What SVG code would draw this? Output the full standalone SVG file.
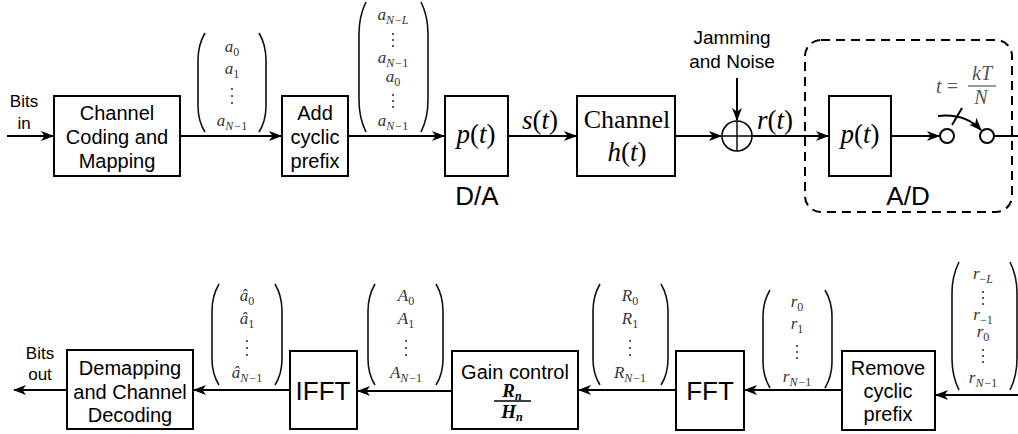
<svg xmlns="http://www.w3.org/2000/svg" width="1018" height="434" viewBox="0 0 1018 434">
<defs>
<marker id="ah" markerUnits="userSpaceOnUse" markerWidth="14" markerHeight="12" refX="12" refY="5" orient="auto">
<path d="M0,0 L13,5 L0,10 L3.5,5 Z" fill="#000"/>
</marker>
<style>
.box{fill:#fff;stroke:#000;stroke-width:2}
.w{fill:none;stroke:#000;stroke-width:2}
.lbl{font-family:"Liberation Sans",Arial,sans-serif;font-size:20px;text-anchor:middle;fill:#000}
.sm{font-family:"Liberation Sans",Arial,sans-serif;font-size:17px;text-anchor:middle;fill:#000}
.jm{font-family:"Liberation Sans",Arial,sans-serif;font-size:19px;text-anchor:middle;fill:#000}
.big{font-family:"Liberation Sans",Arial,sans-serif;font-size:26px;text-anchor:middle;fill:#000}
.m{font-family:"Liberation Serif","Times New Roman",serif;font-style:italic;font-size:27px;text-anchor:middle;fill:#000}
.rm{font-family:"Liberation Serif","Times New Roman",serif;font-size:26px;text-anchor:middle;fill:#000}
.v{font-family:"Liberation Serif","Times New Roman",serif;font-style:italic;font-size:17px;text-anchor:middle;fill:#333}
.frac{font-family:"Liberation Serif","Times New Roman",serif;font-style:italic;font-size:20px;text-anchor:middle;fill:#555}
.gf{font-family:"Liberation Serif","Times New Roman",serif;font-style:italic;font-weight:bold;font-size:19px;text-anchor:middle;fill:#000}
.s{font-size:12px}
.u{font-style:normal}
.par{fill:none;stroke:#111;stroke-width:1.6}
.dot{fill:#333}
</style>
</defs>

<g id="connectors">
<path class="w" d="M7,136 H53" marker-end="url(#ah)"/>
<path class="w" d="M180,136 H281" marker-end="url(#ah)"/>
<path class="w" d="M348,136 H444" marker-end="url(#ah)"/>
<path class="w" d="M508,136 H576" marker-end="url(#ah)"/>
<path class="w" d="M675,136 H721" marker-end="url(#ah)"/>
<path class="w" d="M737,78 V120" marker-end="url(#ah)"/>
<path class="w" d="M752,136 H828" marker-end="url(#ah)"/>
<path class="w" d="M891,136 H939" marker-end="url(#ah)"/>
<path class="w" d="M994,136 H1018"/>
<path class="w" d="M938,116 Q965,113 981,130" marker-end="url(#ah)"/>
<path class="w" d="M962,108 L952,125"/>
<path class="w" d="M1018,395 H936" marker-end="url(#ah)"/>
<path class="w" d="M842,390 H745" marker-end="url(#ah)"/>
<path class="w" d="M676,390 H579" marker-end="url(#ah)"/>
<path class="w" d="M452,391 H358" marker-end="url(#ah)"/>
<path class="w" d="M290,390 H194" marker-end="url(#ah)"/>
<path class="w" d="M67,390 H14" marker-end="url(#ah)"/>
</g>

<g id="bits-in">
<text class="sm" x="24" y="107">Bits</text>
<text class="sm" x="24" y="129">in</text>
</g>

<g id="coding">
<rect class="box" x="54" y="96" width="126" height="80"/>
<text class="lbl" x="117" y="120">Channel</text>
<text class="lbl" x="117" y="144">Coding and</text>
<text class="lbl" x="117" y="168">Mapping</text>
</g>

<g id="vec-a">
<path class="par" d="M205,33 Q198,45 198,60 L198,106 Q198,121 205,132"/>
<path class="par" d="M259,33 Q266,45 266,60 L266,106 Q266,121 259,132"/>
<text class="v" x="232" y="52">a<tspan class="s u" dy="4">0</tspan></text>
<text class="v" x="232" y="74">a<tspan class="s u" dy="4">1</tspan></text>
<circle class="dot" cx="232" cy="89" r="1.1"/><circle class="dot" cx="232" cy="96" r="1.1"/><circle class="dot" cx="232" cy="103" r="1.1"/>
<text class="v" x="232" y="126">a<tspan class="s" dy="4">N<tspan class="u" dx="1">−1</tspan></tspan></text>
</g>

<g id="add-cp">
<rect class="box" x="282" y="96" width="66" height="80"/>
<text class="lbl" x="315" y="120">Add</text>
<text class="lbl" x="315" y="144">cyclic</text>
<text class="lbl" x="315" y="168">prefix</text>
</g>

<g id="vec-acp">
<path class="par" d="M366,2 Q359,16 359,34 L359,100 Q359,118 366,132"/>
<path class="par" d="M421,2 Q428,16 428,34 L428,100 Q428,118 421,132"/>
<text class="v" x="393" y="20">a<tspan class="s" dy="4">N<tspan class="u" dx="1">−</tspan>L</tspan></text>
<circle class="dot" cx="393" cy="34" r="1.1"/><circle class="dot" cx="393" cy="40" r="1.1"/><circle class="dot" cx="393" cy="46" r="1.1"/>
<text class="v" x="393" y="63">a<tspan class="s" dy="4">N<tspan class="u" dx="1">−1</tspan></tspan></text>
<text class="v" x="393" y="82">a<tspan class="s u" dy="4">0</tspan></text>
<circle class="dot" cx="393" cy="95" r="1.1"/><circle class="dot" cx="393" cy="101" r="1.1"/><circle class="dot" cx="393" cy="107" r="1.1"/>
<text class="v" x="393" y="126">a<tspan class="s" dy="4">N<tspan class="u" dx="1">−1</tspan></tspan></text>
</g>

<g id="da">
<rect class="box" x="445" y="96" width="63" height="80"/>
<text class="m" x="476" y="143">p<tspan class="u">(</tspan>t<tspan class="u">)</tspan></text>
<text class="big" x="477" y="205">D/A</text>
</g>

<g id="s-label">
<text class="m" x="540" y="129">s<tspan class="u">(</tspan>t<tspan class="u">)</tspan></text>
</g>

<g id="channel">
<rect class="box" x="577" y="96" width="98" height="80"/>
<text class="rm" x="627" y="128">Channel</text>
<text class="m" x="627" y="161">h<tspan class="u">(</tspan>t<tspan class="u">)</tspan></text>
</g>

<g id="jam">
<text class="jm" x="732" y="44">Jamming</text>
<text class="jm" x="732" y="68">and Noise</text>
</g>

<g id="sum">
<circle cx="737" cy="136" r="15" fill="#fff" stroke="#000" stroke-width="1.6"/>
<path d="M722,136 H752 M737,121 V151" stroke="#000" stroke-width="1.4"/>
<text class="m" x="775" y="129">r<tspan class="u">(</tspan>t<tspan class="u">)</tspan></text>
</g>

<g id="ad">
<rect x="805" y="40" width="207" height="172" rx="16" fill="none" stroke="#000" stroke-width="2" stroke-dasharray="9,6"/>
<path class="w" d="M752,136 H828"/>
<rect class="box" x="829" y="96" width="62" height="80"/>
<text class="m" x="860" y="143">p<tspan class="u">(</tspan>t<tspan class="u">)</tspan></text>
<circle cx="947" cy="136" r="7" fill="#fff" stroke="#000" stroke-width="2"/>
<circle cx="987" cy="136" r="7" fill="#fff" stroke="#000" stroke-width="2"/>
<text class="frac" x="947" y="93">t <tspan class="u">=</tspan></text>
<text class="frac" x="982" y="80">kT</text>
<path d="M968,86 H996" stroke="#555" stroke-width="1.2"/>
<text class="frac" x="981" y="104">N</text>
<text class="big" x="908" y="205">A/D</text>
</g>

<g id="bits-out">
<text class="sm" x="40" y="359">Bits</text>
<text class="sm" x="40" y="380">out</text>
</g>

<g id="demap">
<rect class="box" x="67" y="350" width="126" height="79"/>
<text class="lbl" x="130" y="375">Demapping</text>
<text class="lbl" x="130" y="399">and Channel</text>
<text class="lbl" x="130" y="422">Decoding</text>
</g>

<g id="vec-ahat">
<path class="par" d="M219,284 Q212,296 212,311 L212,359 Q212,374 219,385"/>
<path class="par" d="M275,284 Q282,296 282,311 L282,359 Q282,374 275,385"/>
<text class="v" x="247" y="301">â<tspan class="s u" dy="4">0</tspan></text>
<text class="v" x="247" y="324">â<tspan class="s u" dy="4">1</tspan></text>
<circle class="dot" cx="247" cy="341" r="1.1"/><circle class="dot" cx="247" cy="348" r="1.1"/><circle class="dot" cx="247" cy="355" r="1.1"/>
<text class="v" x="247" y="378">â<tspan class="s" dy="4">N<tspan class="u" dx="1">−1</tspan></tspan></text>
</g>

<g id="ifft">
<rect class="box" x="290" y="351" width="67" height="78"/>
<text class="big" x="323" y="400">IFFT</text>
</g>

<g id="vec-A">
<path class="par" d="M375,284 Q368,296 368,311 L368,359 Q368,374 375,385"/>
<path class="par" d="M436,284 Q443,296 443,311 L443,359 Q443,374 436,385"/>
<text class="v" x="406" y="301">A<tspan class="s u" dy="4">0</tspan></text>
<text class="v" x="406" y="324">A<tspan class="s u" dy="4">1</tspan></text>
<circle class="dot" cx="406" cy="341" r="1.1"/><circle class="dot" cx="406" cy="348" r="1.1"/><circle class="dot" cx="406" cy="355" r="1.1"/>
<text class="v" x="406" y="378">A<tspan class="s" dy="4">N<tspan class="u" dx="1">−1</tspan></tspan></text>
</g>

<g id="gain">
<rect class="box" x="452" y="351" width="126" height="78"/>
<text class="lbl" x="515" y="379">Gain control</text>
<text class="gf" x="512" y="397">R<tspan class="s" dy="3">n</tspan></text>
<path d="M494,401 H531" stroke="#000" stroke-width="1.6"/>
<text class="gf" x="512" y="418">H<tspan class="s" dy="3">n</tspan></text>
</g>

<g id="vec-R">
<path class="par" d="M600,284 Q593,296 593,311 L593,359 Q593,374 600,385"/>
<path class="par" d="M661,284 Q668,296 668,311 L668,359 Q668,374 661,385"/>
<text class="v" x="630" y="301">R<tspan class="s u" dy="4">0</tspan></text>
<text class="v" x="630" y="324">R<tspan class="s u" dy="4">1</tspan></text>
<circle class="dot" cx="630" cy="341" r="1.1"/><circle class="dot" cx="630" cy="348" r="1.1"/><circle class="dot" cx="630" cy="355" r="1.1"/>
<text class="v" x="630" y="378">R<tspan class="s" dy="4">N<tspan class="u" dx="1">−1</tspan></tspan></text>
</g>

<g id="fft">
<rect class="box" x="676" y="351" width="68" height="79"/>
<text class="big" x="710" y="400">FFT</text>
</g>

<g id="vec-r">
<path class="par" d="M770,290 Q763,302 763,316 L763,362 Q763,376 770,388"/>
<path class="par" d="M825,290 Q832,302 832,316 L832,362 Q832,376 825,388"/>
<text class="v" x="797" y="307">r<tspan class="s u" dy="4">0</tspan></text>
<text class="v" x="797" y="329">r<tspan class="s u" dy="4">1</tspan></text>
<circle class="dot" cx="797" cy="346" r="1.1"/><circle class="dot" cx="797" cy="352" r="1.1"/><circle class="dot" cx="797" cy="358" r="1.1"/>
<text class="v" x="797" y="382">r<tspan class="s" dy="4">N<tspan class="u" dx="1">−1</tspan></tspan></text>
</g>

<g id="remove-cp">
<rect class="box" x="842" y="351" width="93" height="79"/>
<text class="lbl" x="888" y="375">Remove</text>
<text class="lbl" x="888" y="398">cyclic</text>
<text class="lbl" x="888" y="421">prefix</text>
</g>

<g id="vec-rcp">
<path class="par" d="M959,262 Q952,276 952,293 L952,359 Q952,376 959,390"/>
<path class="par" d="M1010,262 Q1017,276 1017,293 L1017,359 Q1017,376 1010,390"/>
<text class="v" x="983" y="279">r<tspan class="s" dy="4"><tspan class="u">−</tspan>L</tspan></text>
<circle class="dot" cx="983" cy="292" r="1.1"/><circle class="dot" cx="983" cy="298" r="1.1"/><circle class="dot" cx="983" cy="304" r="1.1"/>
<text class="v" x="983" y="320">r<tspan class="s u" dy="4">−1</tspan></text>
<text class="v" x="983" y="337">r<tspan class="s u" dy="4">0</tspan></text>
<circle class="dot" cx="983" cy="350" r="1.1"/><circle class="dot" cx="983" cy="356" r="1.1"/><circle class="dot" cx="983" cy="362" r="1.1"/>
<text class="v" x="983" y="383">r<tspan class="s" dy="4">N<tspan class="u" dx="1">−1</tspan></tspan></text>
</g>
</svg>
